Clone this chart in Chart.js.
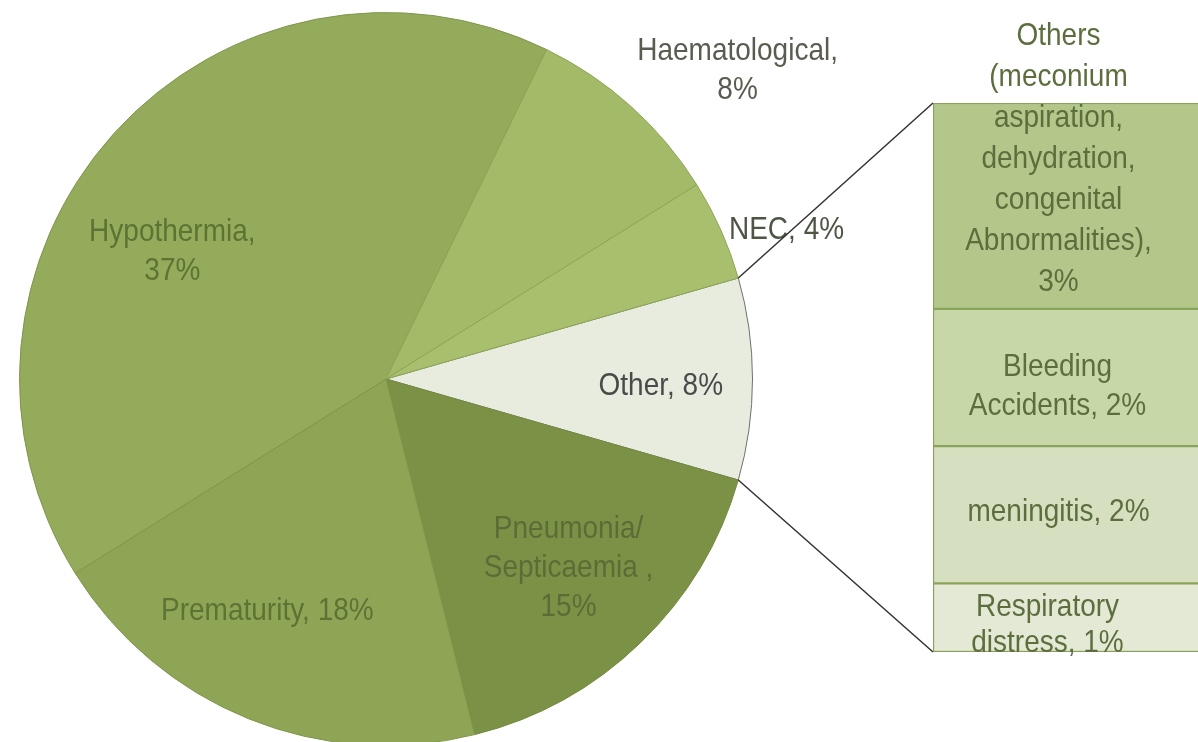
<!DOCTYPE html>
<html>
<head>
<meta charset="utf-8">
<script src="https://cdn.jsdelivr.net/npm/chart.js@4.4.1/dist/chart.umd.min.js"></script>
<style>
  html, body { margin: 0; padding: 0; background: #fff; width: 1198px; height: 742px; overflow: hidden; }
  canvas { position: absolute; }
  #pie { left: 19px; top: 12px; }
  #bar { left: 933px; top: 103px; }
  #overlay { left: 0; top: 0; pointer-events: none; }
</style>
</head>
<body>
<canvas id="pie" width="734" height="734"></canvas>
<canvas id="bar" width="265" height="549"></canvas>
<canvas id="overlay" width="1198" height="742"></canvas>
<script>
// pie slices, clockwise from the "Other" slice
var pieNames = [["Other"], ["Pneumonia/", "Septicaemia "], ["Prematurity"], ["Hypothermia"], ["Haematological"], ["NEC"]];
var pieValues = [8, 15, 18, 37, 8, 4];
var pieValueNewLine = [false, true, false, true, true, false];
var pieColors = ["#e8ecdf", "#7b9246", "#8fa556", "#94ab5c", "#a3ba68", "#a8c06d"];
var pieBorders = ["#6f6f6f", "#73893f", "#7f9549", "#7f9549", "#8ea556", "#8ea556"];

// breakdown of "Other", stacked from the bottom
var barNames = [["Respiratory", "distress"], ["meningitis"], ["Bleeding", "Accidents"],
  ["Others", "(meconium", "aspiration,", "dehydration,", "congenital", "Abnormalities)"]];
var barValues = [1, 2, 2, 3];
var barValueNewLine = [false, false, false, true];
var barColors = ["#e3e9d4", "#d6e0c0", "#c8d7a8", "#b3c78a"];

function labelLines(names, value, newLine) {
  var lines = names.slice();
  var last = lines.length - 1;
  lines[last] = lines[last] + ",";
  if (newLine) lines.push(value + "%");
  else lines[last] = lines[last] + " " + value + "%";
  return lines;
}

// label placement: angle (deg, screen) and distance as part of radius
var pieLabelPos = [[1.5, 0.75], [46, 0.717], [117, 0.713], [210.7, 0.678], [-41.2, 1.275], [-20.4, 1.166]];
var pieTextColors = ["#4a4a4a", "#5a6d37", "#5d7334", "#5d7334", "#585d50", "#4d5545"];
var barLabelShift = [[-18, 8], [-7, -2], [-8, 9], [-7, -47]];
var barLineHeights = [36, 40, 39, 41];

function drawLines(ctx, lines, x, y, lh, color) {
  ctx.save();
  ctx.font = "28px 'Liberation Sans', Arial, sans-serif";
  ctx.fillStyle = color;
  ctx.textAlign = "center";
  ctx.textBaseline = "middle";
  var top = y - (lines.length - 1) * lh / 2;
  lines.forEach(function (s, i) {
    ctx.save();
    ctx.translate(x, top + i * lh);
    ctx.scale(1, 1.12);
    ctx.fillText(s, 0, 0);
    ctx.restore();
  });
  ctx.restore();
}

var pieChart = new Chart(document.getElementById("pie"), {
  type: "pie",
  data: {
    labels: pieNames.map(function (n) { return n.join(" "); }),
    datasets: [{
      data: pieValues,
      backgroundColor: pieColors,
      borderColor: pieBorders,
      borderWidth: 1
    }]
  },
  options: {
    responsive: false,
    animation: false,
    rotation: 74,
    layout: { padding: 0 },
    plugins: { legend: { display: false }, tooltip: { enabled: false } }
  }
});

var barSum = barValues.reduce(function (a, b) { return a + b; }, 0);

var barChart = new Chart(document.getElementById("bar"), {
  type: "bar",
  data: {
    labels: [""],
    datasets: barValues.map(function (v, i) {
      return {
        label: barNames[i].join(" "),
        data: [v],
        backgroundColor: barColors[i],
        borderColor: "#8aa35b",
        borderWidth: 1.5,
        borderSkipped: "right",
        barPercentage: 1,
        categoryPercentage: 1
      };
    })
  },
  options: {
    responsive: false,
    animation: false,
    layout: { padding: 0 },
    scales: {
      x: { stacked: true, display: false },
      y: { stacked: true, display: false, min: 0, max: barSum }
    },
    plugins: { legend: { display: false }, tooltip: { enabled: false } }
  }
});

// labels and connector lines on a page-wide overlay
(function () {
  var pieCanvas = document.getElementById("pie");
  var barCanvas = document.getElementById("bar");
  var ctx = document.getElementById("overlay").getContext("2d");
  var pox = pieCanvas.offsetLeft, poy = pieCanvas.offsetTop;
  var box = barCanvas.offsetLeft, boy = barCanvas.offsetTop;

  pieChart.getDatasetMeta(0).data.forEach(function (arc, i) {
    var p = arc.getProps(["x", "y", "outerRadius"], true);
    var a = pieLabelPos[i][0] * Math.PI / 180;
    var r = p.outerRadius * pieLabelPos[i][1];
    drawLines(ctx, labelLines(pieNames[i], pieValues[i], pieValueNewLine[i]),
      pox + p.x + r * Math.cos(a), poy + p.y + r * Math.sin(a), 39, pieTextColors[i]);
  });

  barValues.forEach(function (v, i) {
    var p = barChart.getDatasetMeta(i).data[0].getProps(["x", "y", "base"], true);
    drawLines(ctx, labelLines(barNames[i], v, barValueNewLine[i]),
      box + p.x + barLabelShift[i][0], boy + (p.y + p.base) / 2 + barLabelShift[i][1],
      barLineHeights[i], "#5c6e3e");
  });

  var arc = pieChart.getDatasetMeta(0).data[0].getProps(["x", "y", "startAngle", "endAngle", "outerRadius"], true);
  var topEl = barChart.getDatasetMeta(barValues.length - 1).data[0].getProps(["x", "y", "width"], true);
  var botEl = barChart.getDatasetMeta(0).data[0].getProps(["x", "base", "width"], true);
  ctx.strokeStyle = "#333";
  ctx.lineWidth = 1.5;
  ctx.beginPath();
  ctx.moveTo(pox + arc.x + arc.outerRadius * Math.cos(arc.startAngle), poy + arc.y + arc.outerRadius * Math.sin(arc.startAngle));
  ctx.lineTo(box + topEl.x - topEl.width / 2, boy + topEl.y);
  ctx.moveTo(pox + arc.x + arc.outerRadius * Math.cos(arc.endAngle), poy + arc.y + arc.outerRadius * Math.sin(arc.endAngle));
  ctx.lineTo(box + botEl.x - botEl.width / 2, boy + botEl.base);
  ctx.stroke();
})();
</script>
</body>
</html>
